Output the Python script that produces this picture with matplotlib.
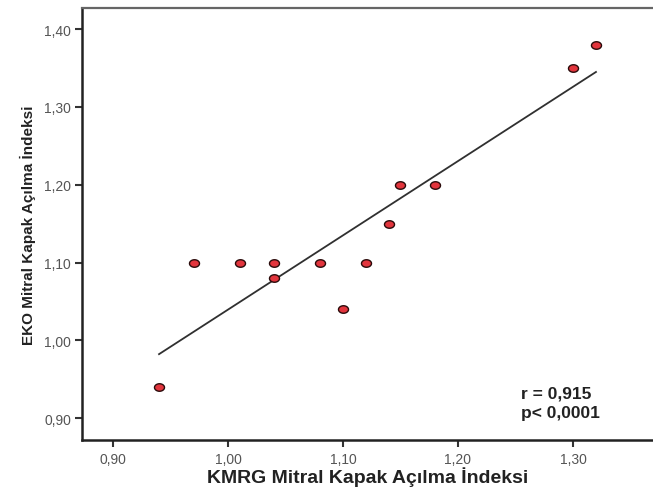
import numpy as np
import matplotlib
matplotlib.use("Agg")
import matplotlib.pyplot as plt
from matplotlib.path import Path
from matplotlib.ticker import FuncFormatter

plt.rcParams['font.family'] = ['Liberation Sans', 'DejaVu Sans']

# Data
kmrg = [0.94, 0.97, 1.01, 1.04, 1.04, 1.08, 1.10, 1.12, 1.14, 1.15, 1.18, 1.30, 1.32]
eko = [0.94, 1.10, 1.10, 1.10, 1.08, 1.10, 1.04, 1.10, 1.15, 1.20, 1.20, 1.35, 1.38]
x_ticks = [0.90, 1.00, 1.10, 1.20, 1.30]
y_ticks = [0.90, 1.00, 1.10, 1.20, 1.30, 1.40]
x_label = "KMRG Mitral Kapak Açılma İndeksi"
y_label = "EKO Mitral Kapak Açılma İndeksi"
stats_text = "r = 0,915\np< 0,0001"

fig = plt.figure(figsize=(6.53, 4.89), dpi=100)
ax = fig.add_axes([82/653, 48/489, 1 - 82/653, 432/489])

# elliptical marker (slightly wider than tall)
t = np.linspace(0, 2*np.pi, 60)
ell = Path(np.column_stack([np.cos(t), 0.75*np.sin(t)]), closed=True)

ax.scatter(kmrg, eko, marker=ell, s=52, facecolor='#e2353d', edgecolor='#2a0a0a',
           linewidths=1.0, zorder=3)

xa = np.array(kmrg); ya = np.array(eko)
slope, intercept = np.polyfit(xa, ya, 1)
xl = np.array([xa.min(), xa.max()])
ax.plot(xl, slope*xl + intercept, color='#303030', lw=1.3, zorder=2)

ax.set_xlim(0.873, 1.3696)
ax.set_ylim(0.872, 1.427)
ax.set_xticks(x_ticks)
ax.set_yticks(y_ticks)
fmt = FuncFormatter(lambda v, p: f"{v:.2f}".replace('.', ','))
ax.xaxis.set_major_formatter(fmt)
ax.yaxis.set_major_formatter(fmt)
ax.tick_params(axis='both', direction='out', length=5, width=1.5, color='#333333',
               labelsize=10, labelcolor='#555555')
ax.tick_params(axis='x', pad=4)
ax.tick_params(axis='y', pad=3)

for s in ['left', 'bottom']:
    ax.spines[s].set_linewidth(1.8)
    ax.spines[s].set_color('#222222')
ax.spines['top'].set_linewidth(1.6)
ax.spines['top'].set_color('#666666')
ax.spines['right'].set_visible(False)

ax.set_xlabel(x_label, fontsize=14, fontweight='bold', color='#222222', labelpad=0)
ax.set_ylabel(y_label, fontsize=11, fontweight='bold', color='#222222', labelpad=6)

ax.text(1.255, 0.942, stats_text, fontsize=12.5, fontweight='bold', color='#222222',
        ha='left', va='top', linespacing=1.4)

fig.savefig("out.png", dpi=100, facecolor='white')
